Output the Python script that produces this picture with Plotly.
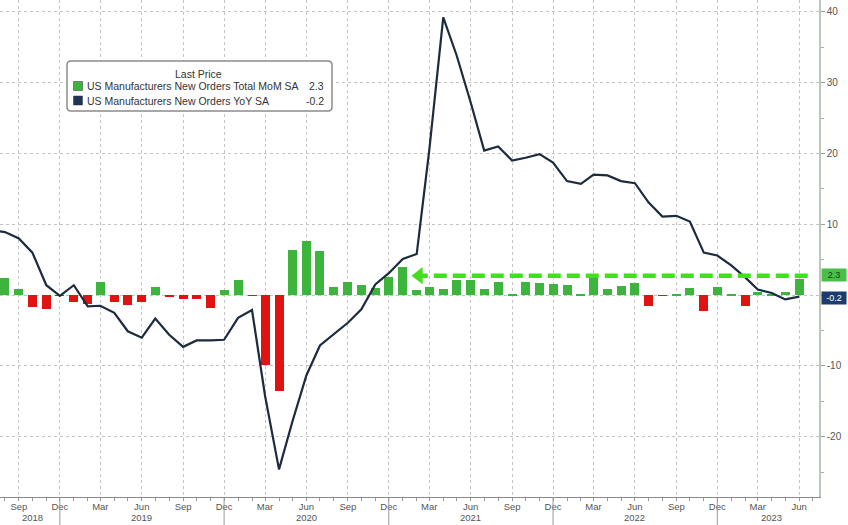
import pandas as pd
import plotly.graph_objects as go

# ---- data ----
months = pd.date_range("2018-07-01", "2023-06-01", freq="MS")  # Jul 2018 .. Jun 2023

yoy_values = [
    9.2, 8.9, 8.0, 6.0, 1.4, -0.1,            # Jul-Dec 2018
    1.4, -1.6, -1.5, -2.5, -5.1, -6.0,        # Jan-Jun 2019
    -3.3, -5.6, -7.3, -6.4, -6.4, -6.3,       # Jul-Dec 2019
    -3.2, -2.1, -14.2, -24.6, -17.8, -11.3,   # Jan-Jun 2020
    -7.1, -5.5, -3.9, -2.0, 1.5, 3.1,         # Jul-Dec 2020
    5.1, 5.8, 20.5, 39.2, 33.8, 27.2,         # Jan-Jun 2021
    20.4, 21.0, 19.0, 19.4, 19.9, 18.7,       # Jul-Dec 2021
    16.1, 15.7, 17.0, 16.9, 16.1, 15.8,       # Jan-Jun 2022
    13.1, 11.1, 11.2, 10.4, 6.0, 5.6,         # Jul-Dec 2022
    4.2, 2.5, 0.8, 0.3, -0.6, -0.2,           # Jan-Jun 2023
]

bar_months = months[1:]  # Aug 2018 .. Jun 2023
mom_values = [
    2.4, 0.9, -1.7, -1.9, -0.1,               # Aug-Dec 2018
    -0.9, -1.2, 1.9, -1.0, -1.4, -1.0,        # Jan-Jun 2019
    1.2, -0.2, -0.5, -0.5, -1.8, 0.7,         # Jul-Dec 2019
    2.2, -0.1, -9.9, -13.6, 6.4, 7.6,         # Jan-Jun 2020
    6.2, 1.2, 1.9, 1.5, 1.0, 2.6,             # Jul-Dec 2020
    4.0, 0.7, 1.2, 0.9, 2.1, 2.1,             # Jan-Jun 2021
    0.9, 1.9, 0.1, 1.9, 1.7, 1.6,             # Jul-Dec 2021
    1.4, 0.1, 2.4, 0.8, 1.3, 1.7,             # Jan-Jun 2022
    -1.6, -0.1, 0.2, 1.0, -2.3, 1.1,          # Jul-Dec 2022
    0.1, -1.5, 0.5, 0.2, 0.4, 2.3,            # Jan-Jun 2023
]

tick_dates = pd.date_range("2018-09-01", "2023-06-01", freq="3MS")
tick_labels = ["Sep", "Dec", "Mar", "Jun"] * 5
tick_labels = tick_labels[:len(tick_dates)]

y_tick_vals = [-20, -10, 0, 10, 20, 30, 40]
y_tick_text = ["-20", "-10", "", "10", "20", "30", "40"]  # 0 is hidden behind the value badge

year_labels = ["2018", "2019", "2020", "2021", "2022", "2023"]
year_label_pos = ["2018-10-01", "2019-06-01", "2020-06-01", "2021-06-01", "2022-06-01", "2023-04-01"]
year_sep_pos = ["2018-12-01", "2019-12-01", "2020-12-01", "2021-12-01", "2022-12-01"]

name_mom = "US Manufacturers New Orders Total MoM SA"
name_yoy = "US Manufacturers New Orders YoY SA"
last_mom = mom_values[-1]
last_yoy = yoy_values[-1]

# arrow annotation (from latest bar back to Jan 2021)
arrow_level = 2.75
arrow_from = "2023-06-20"
arrow_to = "2021-02-06"

GREEN = "#3db53d"
RED = "#e01212"
NAVY = "#1c2b3e"
ARROW = "#44dd22"

# ---- figure ----
W, H = 848, 525
ML, MR, MT, MB = 0, 29, 0, 28
PW, PH = W - ML - MR, H - MT - MB

def px(x):
    return x / PW

def py(y):
    return 1 - y / PH

fig = go.Figure()

bar_colors = [GREEN if v >= 0 else RED for v in mom_values]
fig.add_trace(go.Bar(
    x=bar_months, y=mom_values, marker=dict(color=bar_colors, line=dict(width=0)),
    width=1000 * 3600 * 24 * 20, name=name_mom, showlegend=False,
))

fig.add_trace(go.Scatter(
    x=months, y=yoy_values, mode="lines", line=dict(color=NAVY, width=2.2),
    name=name_yoy, showlegend=False,
))

# dashed arrow
fig.add_trace(go.Scatter(
    x=[arrow_from, arrow_to], y=[arrow_level, arrow_level], mode="lines",
    line=dict(color=ARROW, width=4.5, dash="13px,6px"), showlegend=False, hoverinfo="skip",
))
fig.add_trace(go.Scatter(
    x=[arrow_to], y=[arrow_level], mode="markers",
    marker=dict(symbol="triangle-left", size=15, color=ARROW), showlegend=False, hoverinfo="skip",
))

fig.update_layout(
    width=W, height=H,
    margin=dict(l=ML, r=MR, t=MT, b=MB, pad=0),
    paper_bgcolor="white", plot_bgcolor="white",
    font=dict(family="Liberation Sans, Arial, sans-serif", size=10, color="#444"),
    bargap=0,
    showlegend=False,
)

fig.update_xaxes(
    type="date", range=["2018-07-21", "2023-07-15"],
    tickmode="array", tickvals=tick_dates, ticktext=tick_labels,
    ticks="", 
    showgrid=True, gridcolor="#c4c4c4", griddash="dot", gridwidth=1,
    showline=True, linecolor="#8a8a8a", linewidth=1,
    tickfont=dict(size=9.5, color="#555"),
    ticklabelstandoff=1,
    minor=dict(tickmode="linear", tick0="2018-01-01", dtick="M1", ticks="outside",
               ticklen=3, tickcolor="#999", showgrid=False),
    zeroline=False,
)

fig.update_yaxes(
    side="right", range=[-28.5, 41.67], tickmode="array",
    tickvals=y_tick_vals, ticktext=y_tick_text,
    ticks="outside", ticklen=4, tickcolor="#999",
    showgrid=True, gridcolor="#c4c4c4", griddash="dot", gridwidth=1,
    showline=True, linecolor="#b8c8b8", linewidth=1.5,
    tickfont=dict(size=10, color="#555"),
    minor=dict(tickmode="linear", tick0=0, dtick=5, ticks="outside", ticklen=3,
               tickcolor="#aaa", showgrid=False),
    zeroline=False,
)

shapes = []
annotations = []

# year labels and separators
for lab, pos in zip(year_labels, year_label_pos):
    annotations.append(dict(x=pos, y=-28 / PH, xref="x", yref="paper", text=lab,
                            showarrow=False, yanchor="bottom", xanchor="center",
                            font=dict(size=9.5, color="#555")))
for pos in year_sep_pos:
    shapes.append(dict(type="line", xref="x", yref="paper", x0=pos, x1=pos,
                       y0=0, y1=-30 / PH, line=dict(color="#999", width=1)))

# legend box
lx0, lx1, ly0, ly1 = 67, 332, 61, 111
r = 4
path = (f"M {px(lx0+r)},{py(ly0)} L {px(lx1-r)},{py(ly0)} Q {px(lx1)},{py(ly0)} {px(lx1)},{py(ly0+r)} "
        f"L {px(lx1)},{py(ly1-r)} Q {px(lx1)},{py(ly1)} {px(lx1-r)},{py(ly1)} "
        f"L {px(lx0+r)},{py(ly1)} Q {px(lx0)},{py(ly1)} {px(lx0)},{py(ly1-r)} "
        f"L {px(lx0)},{py(ly0+r)} Q {px(lx0)},{py(ly0)} {px(lx0+r)},{py(ly0)} Z")
shapes.append(dict(type="path", xref="paper", yref="paper", path=path,
                   line=dict(color="#8c8c8c", width=1.5), fillcolor="white", layer="above"))

annotations.append(dict(x=px(198), y=py(73.5), xref="paper", yref="paper", text="Last Price",
                        showarrow=False, xanchor="center", yanchor="middle",
                        font=dict(size=10.5, color="#333")))
for i, (nm, val, col) in enumerate([(name_mom, last_mom, GREEN), (name_yoy, last_yoy, "#1f3459")]):
    yc = [86, 100.5][i]
    shapes.append(dict(type="rect", xref="paper", yref="paper",
                       x0=px(73.5), x1=px(82.5), y0=py(yc - 4.5), y1=py(yc + 4.5),
                       fillcolor=col, line=dict(width=0.5, color="#333"), layer="above"))
    annotations.append(dict(x=px(85), y=py(yc), xref="paper", yref="paper", text=nm,
                            showarrow=False, xanchor="left", yanchor="middle",
                            font=dict(size=10.5, color="#333")))
    annotations.append(dict(x=px(326), y=py(yc), xref="paper", yref="paper", text=f"{val:.1f}",
                            showarrow=False, xanchor="right", yanchor="middle",
                            font=dict(size=10.5, color="#333")))

# right-side last value badges
annotations.append(dict(x=px(821), y=2.9, xref="paper", yref="y", text=f"{last_mom:.1f}",
                        showarrow=False, xanchor="left", yanchor="middle",
                        bgcolor="#48c048", borderpad=0, width=24, height=12,
                        font=dict(size=9, color="#153d15")))
annotations.append(dict(x=px(821), y=-0.4, xref="paper", yref="y", text=f"{last_yoy:.1f}",
                        showarrow=False, xanchor="left", yanchor="middle",
                        bgcolor="#1c3d6c", borderpad=0, width=24, height=12,
                        font=dict(size=9, color="white")))

fig.update_layout(shapes=shapes, annotations=annotations)

fig.write_html("out.html")
